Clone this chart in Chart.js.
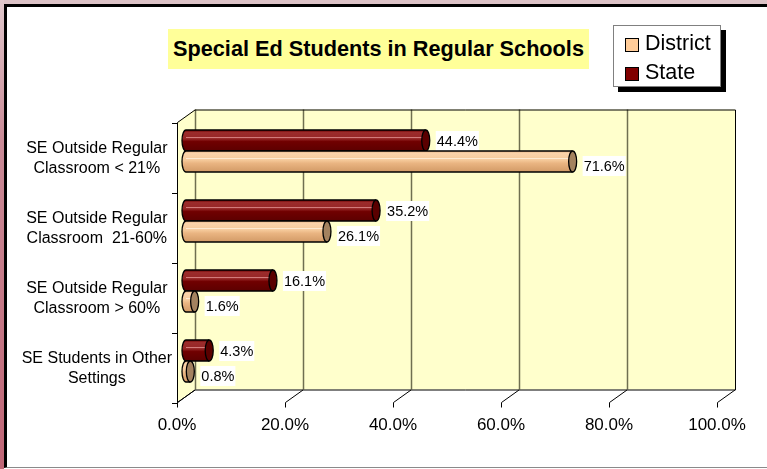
<!DOCTYPE html>
<html>
<head>
<meta charset="utf-8">
<script src="https://cdn.jsdelivr.net/npm/chart.js@4.4.0/dist/chart.umd.min.js"></script>
<style>
  html, body { margin: 0; padding: 0; }
  body { width: 767px; height: 469px; position: relative; overflow: hidden; background: #fff;
         font-family: 'Liberation Sans', Arial, sans-serif; }
  #topStrip { position: absolute; left: 0; top: 0; width: 767px; height: 4px; background: #dcc2c6; }
  #leftStrip { position: absolute; left: 0; top: 0; width: 4px; height: 469px;
               background: linear-gradient(#e0c8cc, #c98a96 30%, #bf6676); }
  #panel { position: absolute; left: 4px; top: 4px; width: 780px; height: 464px; box-sizing: border-box;
           background: #fff; border-left: 3px solid #000; border-top: 3px solid #000; border-bottom: 1px solid #8a8a8a; }
  #wrap { position: absolute; left: 0; top: 0; width: 767px; height: 469px; }
  #title { position: absolute; left: 168px; top: 29px; width: 421px; height: 40px; background: #ffff99;
           font-weight: bold; font-size: 21.7px; line-height: 40px; text-align: center; color: #000; white-space: nowrap; }
  #legend { position: absolute; left: 613px; top: 25px; width: 108px; height: 62px; box-sizing: border-box;
            background: #fff; border: 1px solid #808080; box-shadow: 5px 5px 0 #000; }
  .item { position: absolute; left: 11px; height: 24px; font-size: 21.5px; line-height: 24px; color: #000; white-space: nowrap; }
  .item span { position: absolute; left: 0; top: 7px; width: 14px; height: 14px; box-sizing: border-box; border: 1px solid #000; }
  .item b { font-weight: normal; position: absolute; left: 20px; top: 0; }
</style>
</head>
<body>
<div id="topStrip"></div>
<div id="leftStrip"></div>
<div id="panel"></div>
<div id="wrap"><canvas id="chart" width="767" height="469"></canvas></div>
<div id="title"></div>
<div id="legend"></div>
<script>
const chartTitle = 'Special Ed Students in Regular Schools';
const categories = [
  ['SE Outside Regular', 'Classroom < 21%'],
  ['SE Outside Regular', 'Classroom  21-60%'],
  ['SE Outside Regular', 'Classroom > 60%'],
  ['SE Students in Other', 'Settings'],
];
const districtValues = [71.6, 26.1, 1.6, 0.8];
const stateValues = [44.4, 35.2, 16.1, 4.3];
const xTicks = [0, 20, 40, 60, 80, 100];

const FONT = "'Liberation Sans', Arial, sans-serif";
const DX = 9;    // half depth, horizontal
const DY = 6.5;  // half depth, vertical

const looks = {
  State: {
    stops: [[0, '#6a0000'], [0.12, '#9c2c2c'], [0.42, '#962626'], [0.55, '#700000'], [1, '#5c0000']],
    shine: 'rgba(230,150,150,0.8)',
    cap: '#5a0000',
  },
  District: {
    stops: [[0, '#e9b98a'], [0.12, '#fad3aa'], [0.42, '#f6cb9c'], [0.58, '#eab582'], [1, '#d29a66']],
    shine: 'rgba(255,240,220,0.9)',
    cap: '#a3825f',
  },
};

document.getElementById('title').textContent = chartTitle;

// 3D walls, grid, front axis lines
const wallsPlugin = {
  id: 'walls',
  beforeDraw(chart) {
    const { ctx, chartArea: a } = chart;
    const xs = chart.scales.x;
    const bl = a.left + DX, br = a.right + DX, bt = a.top - DY, bb = a.bottom - DY;
    const fl = a.left - DX, ft = a.top + DY, fb = a.bottom + DY;
    ctx.save();
    ctx.fillStyle = '#ffffcc';
    ctx.fillRect(bl, bt, br - bl, bb - bt);
    ctx.beginPath();
    ctx.moveTo(fl, ft); ctx.lineTo(bl, bt); ctx.lineTo(bl, bb); ctx.lineTo(fl, fb); ctx.closePath();
    ctx.fill();

    // grid on back wall
    ctx.strokeStyle = '#6f6f50';
    ctx.lineWidth = 1.5;
    xTicks.slice(0, -1).forEach(v => {
      const px = Math.round(xs.getPixelForValue(v) + DX) + 0.5;
      ctx.beginPath(); ctx.moveTo(px, bt); ctx.lineTo(px, bb); ctx.stroke();
    });

    ctx.strokeStyle = '#000';
    ctx.lineWidth = 1;
    // back wall outline (top, right, bottom)
    ctx.beginPath();
    ctx.moveTo(bl, bt + 0.5); ctx.lineTo(br + 0.5, bt + 0.5); ctx.lineTo(br + 0.5, bb + 0.5); ctx.lineTo(bl, bb + 0.5);
    ctx.stroke();
    // left wall outline
    ctx.beginPath();
    ctx.moveTo(bl, bt + 0.5); ctx.lineTo(fl + 0.5, ft); ctx.lineTo(fl + 0.5, fb); ctx.lineTo(bl, bb + 0.5);
    ctx.stroke();
    // category tick marks on front axis
    const step = (a.bottom - a.top) / categories.length;
    for (let i = 0; i <= categories.length; i++) {
      const py = Math.round(a.top + i * step + DY) + 0.5;
      ctx.beginPath(); ctx.moveTo(fl - 5, py); ctx.lineTo(fl + 0.5, py); ctx.stroke();
    }
    // floor diagonals and value ticks
    xTicks.forEach(v => {
      const px = xs.getPixelForValue(v);
      ctx.beginPath();
      ctx.moveTo(px + DX, bb + 0.5); ctx.lineTo(px - DX + 0.5, fb); ctx.lineTo(px - DX + 0.5, fb + 5);
      ctx.stroke();
    });
    ctx.restore();
  },
  afterDatasetsDraw(chart) {
    const { ctx } = chart;
    ctx.save();
    chart.data.datasets.forEach((ds, di) => {
      const look = looks[ds.label];
      const meta = chart.getDatasetMeta(di);
      meta.data.forEach((bar, i) => {
        const x0 = bar.base, x1 = bar.x, yc = bar.y, h = bar.height;
        const top = yc - h / 2, bot = yc + h / 2, rx = 4, ry = h / 2;
        const g = ctx.createLinearGradient(0, top, 0, bot);
        look.stops.forEach(([o, c]) => g.addColorStop(o, c));
        ctx.beginPath();
        ctx.moveTo(x1, top);
        ctx.lineTo(x0, top);
        ctx.ellipse(x0, yc, rx, ry, 0, -Math.PI / 2, Math.PI / 2, true);
        ctx.lineTo(x1, bot);
        ctx.closePath();
        ctx.fillStyle = g;
        ctx.fill();
        ctx.strokeStyle = look.shine;
        ctx.lineWidth = 1;
        ctx.beginPath();
        ctx.moveTo(x0, top + h * 0.36); ctx.lineTo(x1, top + h * 0.36);
        ctx.stroke();
        ctx.beginPath();
        ctx.moveTo(x1, top);
        ctx.lineTo(x0, top);
        ctx.ellipse(x0, yc, rx, ry, 0, -Math.PI / 2, Math.PI / 2, true);
        ctx.lineTo(x1, bot);
        ctx.strokeStyle = '#000';
        ctx.lineWidth = 1.3;
        ctx.stroke();
        ctx.beginPath();
        ctx.ellipse(x1, yc, rx, ry, 0, 0, Math.PI * 2);
        ctx.fillStyle = look.cap;
        ctx.fill();
        ctx.stroke();

        // value label
        const txt = ds.data[i].toFixed(1) + '%';
        ctx.font = '14.5px ' + FONT;
        const w = ctx.measureText(txt).width;
        const lx = x1 + 11;
        const ly = yc + (ds.label === 'District' ? 4.5 : 0.5);
        ctx.fillStyle = '#fff';
        ctx.fillRect(lx - 1, ly - 10, w + 2, 20);
        ctx.fillStyle = '#000';
        ctx.textBaseline = 'middle';
        ctx.textAlign = 'left';
        ctx.fillText(txt, lx, ly + 1);
      });
    });
    ctx.restore();
  },
};

const chart = new Chart(document.getElementById('chart'), {
  type: 'bar',
  data: {
    labels: categories,
    datasets: [
      { label: 'State', data: stateValues, backgroundColor: '#800000' },
      { label: 'District', data: districtValues, backgroundColor: '#ffcc99' },
    ],
  },
  options: {
    indexAxis: 'y',
    responsive: false,
    animation: false,
    devicePixelRatio: 1,
    layout: { padding: { top: 116, right: 41, left: 0, bottom: 0 } },
    datasets: { bar: { categoryPercentage: 0.6, barPercentage: 1.0, borderWidth: 0 } },
    plugins: { legend: { display: false }, title: { display: false }, tooltip: { enabled: false } },
    scales: {
      x: {
        min: 0,
        max: 100,
        afterBuildTicks(scale) { scale.ticks = xTicks.map(v => ({ value: v })); },
        afterFit(scale) { scale.height = 73; },
        grid: { display: false },
        border: { display: false },
        ticks: {
          callback: v => v.toFixed(1) + '%',
          labelOffset: -DX,
          padding: 11,
          maxRotation: 0,
          autoSkip: false,
          color: '#000',
          font: { size: 17, family: FONT },
        },
      },
      y: {
        afterFit(scale) { scale.width = 186; },
        grid: { display: false },
        border: { display: false },
        ticks: {
          padding: 6,
          labelOffset: DY + 1,
          crossAlign: 'center',
          autoSkip: false,
          color: '#000',
          font: { size: 16, family: FONT, lineHeight: 1.25 },
        },
      },
    },
  },
  plugins: [wallsPlugin],
});

// legend built from the datasets, District first as in the original
const legend = document.getElementById('legend');
['District', 'State'].forEach((name, k) => {
  const ds = chart.data.datasets.find(d => d.label === name);
  const item = document.createElement('div');
  item.className = 'item';
  item.style.top = (k === 0 ? 5 : 34) + 'px';
  item.innerHTML = '<span style="background:' + ds.backgroundColor + '"></span><b>' + name + '</b>';
  legend.appendChild(item);
});
</script>
</body>
</html>
